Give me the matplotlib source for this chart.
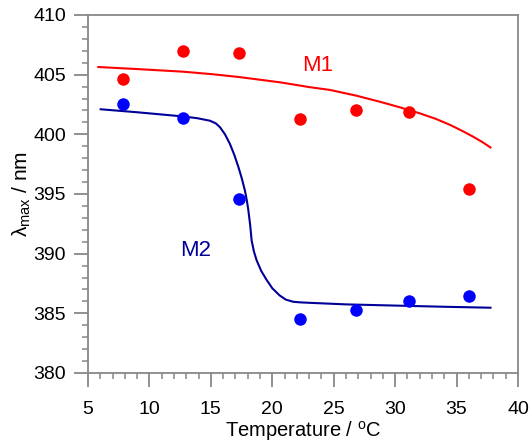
import matplotlib.pyplot as plt
from matplotlib.ticker import MultipleLocator

plt.rcParams['font.family'] = ['Liberation Sans', 'DejaVu Sans']
plt.rcParams['mathtext.fontset'] = 'custom'
plt.rcParams['mathtext.rm'] = 'Liberation Sans'

# measured points
temp = [7.84, 12.73, 17.31, 22.25, 26.83, 31.12, 36.03]
m1 = [404.6, 407.0, 406.8, 401.3, 402.05, 401.9, 395.4]
m2 = [402.5, 401.35, 394.6, 384.55, 385.3, 386.0, 386.45]

# fit curves
fit1_x = [5.84, 9.0, 12.73, 15.0, 17.31, 20.62, 23.06, 24.69, 26.8, 28.76, 30.4, 32.0, 33.3, 34.45, 35.4, 36.35, 37.1, 37.76]
fit1_y = [405.64, 405.47, 405.25, 405.05, 404.8, 404.36, 403.95, 403.72, 403.25, 402.73, 402.26, 401.76, 401.3, 400.8, 400.32, 399.8, 399.35, 398.9]

fit2_x = [6.03, 9.0, 12.73, 13.9, 14.93, 15.4, 15.74, 16.15, 16.55, 16.9, 17.23, 17.52, 17.77, 17.93, 18.05,
          18.2, 18.32, 18.5, 18.72, 19.1, 19.54, 20.0, 20.6, 21.1, 21.7, 22.25, 23.06, 26.0, 30.0, 34.0, 37.76]
fit2_y = [402.1, 401.85, 401.5, 401.35, 401.14, 400.92, 400.6, 400.0, 399.2, 398.3, 397.3, 396.3, 395.3, 394.45, 393.65,
          392.4, 391.1, 390.2, 389.46, 388.55, 387.8, 387.1, 386.5, 386.15, 385.97, 385.92, 385.88, 385.75, 385.65, 385.55, 385.47]

fig = plt.figure(figsize=(5.32, 4.45), dpi=100)
ax = fig.add_axes([0.1654, 0.1618, 0.8083, 0.8045])

ax.plot(fit1_x, fit1_y, color='#ff0000', lw=1.5)
ax.plot(fit2_x, fit2_y, color='#000099', lw=1.5)
ax.plot(temp, m1, 'o', color='#ff0000', ms=9, mec='none')
ax.plot(temp, m2, 'o', color='#0000ff', ms=9, mec='none')

ax.text(23.7, 405.75, 'M1', color='#ff0000', fontsize=16, ha='center', va='center')
ax.text(13.8, 390.3, 'M2', color='#000099', fontsize=16, ha='center', va='center')

ax.set_xlim(5, 40)
ax.set_ylim(380, 410)
ax.xaxis.set_major_locator(MultipleLocator(5))
ax.xaxis.set_minor_locator(MultipleLocator(1))
ax.yaxis.set_major_locator(MultipleLocator(5))
ax.yaxis.set_minor_locator(MultipleLocator(1))

for s in ax.spines.values():
    s.set_color('#888888')
    s.set_linewidth(1.3)
ax.tick_params(which='major', direction='out', length=10, width=1.3, color='#888888', labelsize=14)
ax.tick_params(axis='x', which='major', pad=10)
ax.tick_params(axis='y', which='major', pad=6)
ax.tick_params(which='minor', direction='out', length=4.5, width=1.1, color='#888888')

ax.set_xlabel('Temperature / $^{\\mathrm{o}}$C', fontsize=14.5, labelpad=1)
ax.set_ylabel('λ$_{\\mathrm{max}}$ / nm', fontsize=15, labelpad=0)

fig.savefig('out.png', dpi=100)
